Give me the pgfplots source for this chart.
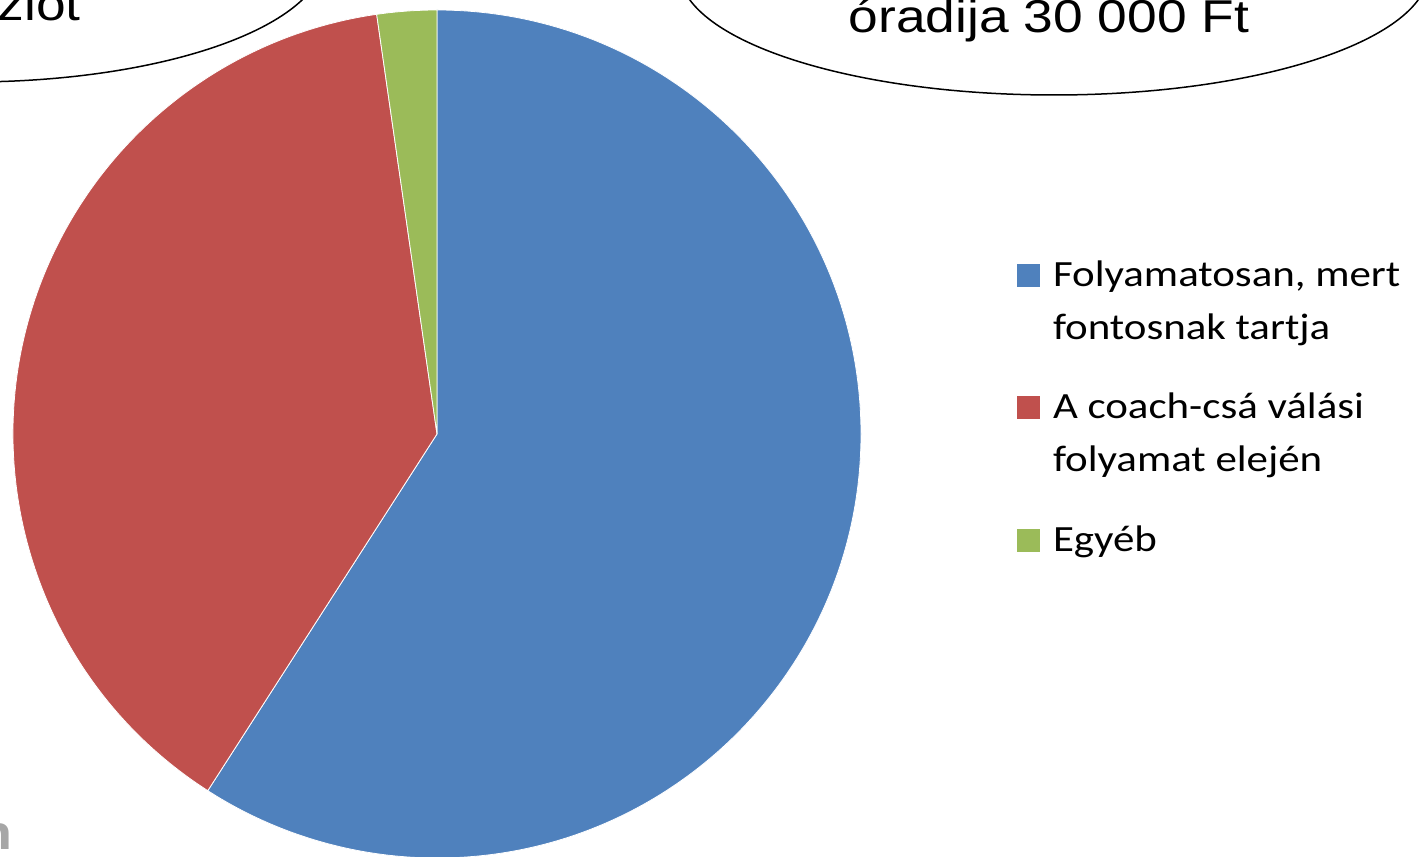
\documentclass[border=0pt]{standalone}
\usepackage{fontspec}
\setmainfont{Carlito}
\newfontfamily\legfont[FakeStretch=1.16]{Carlito}
\newfontfamily\arialx[FakeStretch=1.16]{Liberation Sans}
\newfontfamily\arialb[FakeStretch=1.16]{Liberation Sans}
\usepackage{pgfplots}
\usepackage{pgfplotstable}
\pgfplotsset{compat=1.18}
\definecolor{pieblue}{HTML}{4F81BD}
\definecolor{piered}{HTML}{C0504D}
\definecolor{piegreen}{HTML}{9BBB59}
\definecolor{footgray}{HTML}{A6A6A6}

% pie data: share of answers
\pgfplotstableread{
idx value
0 26
1 17
2 1
}\piedata

\newcommand{\twoline}[2]{\begin{tabular}[t]{@{}l@{}}#1\\#2\end{tabular}}

\begin{document}
\begin{tikzpicture}
\pgfplotstablegetelem{0}{value}\of\piedata \let\vA\pgfplotsretval
\pgfplotstablegetelem{1}{value}\of\piedata \let\vB\pgfplotsretval
\pgfplotstablegetelem{2}{value}\of\piedata \let\vC\pgfplotsretval
\pgfmathsetmacro\tot{\vA+\vB+\vC}
\pgfmathsetmacro\aA{90-360*\vA/\tot}
\pgfmathsetmacro\aB{\aA-360*\vB/\tot}
\pgfmathsetmacro\aC{\aB-360*\vC/\tot}
\begin{axis}[name=ax, x=0.5pt, y=0.5pt, xmin=0, xmax=1425, ymin=0, ymax=857,
  hide axis,
  legend style={at={(axis cs:1017,608)}, anchor=north west, draw=none, fill=none,
    inner sep=0pt, outer sep=0pt, row sep=46.25pt, column sep=6.5pt,
    font=\legfont\fontsize{18.5pt}{26.5pt}\selectfont,
    nodes={inner sep=0pt}},
  legend cell align=left,
  legend image code/.code={\fill[#1] (0pt,-8.8pt) rectangle (11.5pt,2.7pt);},
]
\addlegendimage{fill=pieblue, draw=none}
\addlegendentry{\twoline{Folyamatosan, mert}{fontosnak tartja}}
\addlegendimage{fill=piered, draw=none}
\addlegendentry{\twoline{A coach-csá válási}{folyamat elején}}
\addlegendimage{fill=piegreen, draw=none}
\addlegendentry{\begin{tabular}[t]{@{}l@{}}Egyéb\end{tabular}}

\fill[pieblue, draw=white, line width=0.4pt] (axis cs:437,423) -- ++(90:212pt)
  arc[start angle=90, end angle=\aA, radius=212pt] -- cycle;
\fill[piered, draw=white, line width=0.4pt] (axis cs:437,423) -- ++(\aA:212pt)
  arc[start angle=\aA, end angle=\aB, radius=212pt] -- cycle;
\fill[piegreen, draw=white, line width=0.4pt] (axis cs:437,423) -- ++(\aB:212pt)
  arc[start angle=\aB, end angle=\aC, radius=212pt] -- cycle;

\draw[black, line width=0.75pt] (axis cs:-30,902) ellipse [x radius=177.5pt, y radius=63.5pt];
\draw[black, line width=0.75pt] (axis cs:1054,887) ellipse [x radius=187.5pt, y radius=62.5pt];
\node[anchor=base east, inner sep=0pt, font=\arialx\fontsize{23pt}{27pt}\selectfont] at (axis cs:81,836) {ziót};
\node[anchor=base, inner sep=0pt, font=\arialx\fontsize{23pt}{27pt}\selectfont] at (axis cs:1049,824.5) {óradija 30 000 Ft};
\node[anchor=base east, inner sep=0pt, text=footgray, font=\arialb\bfseries\fontsize{24pt}{28pt}\selectfont] at (axis cs:13,7) {n};
\end{axis}
\pgfresetboundingbox
\path[use as bounding box] (ax.south west) rectangle (ax.north east);
\end{tikzpicture}
\end{document}
